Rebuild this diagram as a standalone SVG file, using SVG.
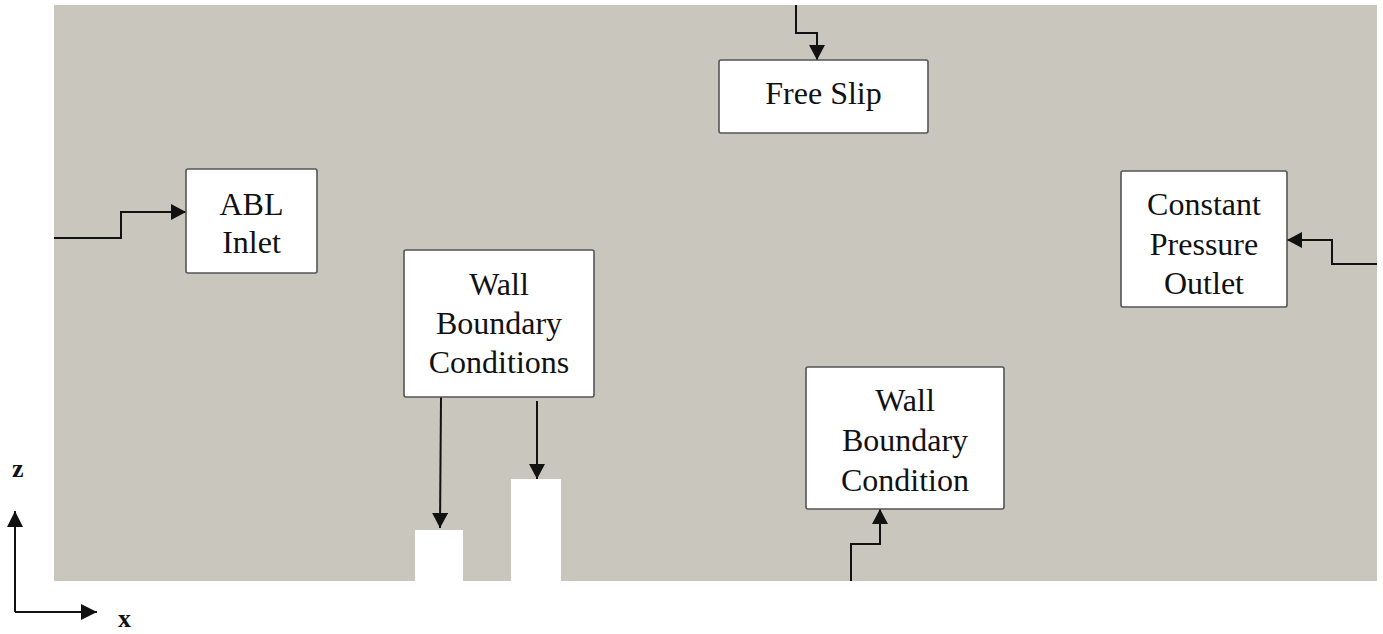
<svg xmlns="http://www.w3.org/2000/svg" width="1383" height="634" viewBox="0 0 1383 634">
<style>
.node rect{fill:#ffffff;stroke:#555555;stroke-width:1.6}
.lbl{font-family:"Liberation Serif","Times New Roman",serif;font-size:32px;fill:#111;text-anchor:middle}
.ax{font-family:"Liberation Serif","Times New Roman",serif;font-size:26px;font-weight:bold;fill:#111}
.conn path,.conn line{fill:none;stroke:#111;stroke-width:2}
.bld{fill:#ffffff}
</style>
<defs>
<marker id="ah" viewBox="0 0 15 16" refX="15" refY="8" markerWidth="15" markerHeight="16" markerUnits="userSpaceOnUse" orient="auto">
<path d="M0,0 L15,8 L0,16 Z" fill="#111"/>
</marker>
<marker id="ax" viewBox="0 0 16 16" refX="16" refY="8" markerWidth="16" markerHeight="16" markerUnits="userSpaceOnUse" orient="auto">
<path d="M0,0 L16,8 L0,16 Z" fill="#111"/>
</marker>
</defs>
<rect x="0" y="0" width="1383" height="634" fill="#ffffff"/>
<rect id="domain" x="54" y="5" width="1323" height="576" fill="#c9c6be"/>
<rect class="bld" id="building1" x="415" y="530" width="48" height="52"/>
<rect class="bld" id="building2" x="511" y="479" width="50" height="103"/>
<g id="connectors" class="conn">
<path d="M796,5 V33 H817 V60" marker-end="url(#ah)"/>
<path d="M54,238 H121 V212 H186" marker-end="url(#ah)"/>
<path d="M1377,264 H1332 V240 H1287" marker-end="url(#ah)"/>
<path d="M441,397 L440,528" marker-end="url(#ah)"/>
<path d="M537,401 V479" marker-end="url(#ah)"/>
<path d="M851,581 V544 H880 V509" marker-end="url(#ah)"/>
</g>
<g id="free-slip" class="node">
<rect x="719" y="60" width="209" height="73" rx="2"/>
<text class="lbl" x="823.5" y="104">Free Slip</text>
</g>
<g id="abl-inlet" class="node">
<rect x="186" y="169" width="131" height="104" rx="2"/>
<text class="lbl" x="251.5" y="215">ABL</text>
<text class="lbl" x="251.5" y="253">Inlet</text>
</g>
<g id="constant-pressure-outlet" class="node">
<rect x="1121" y="171" width="166" height="136" rx="2"/>
<text class="lbl" x="1204" y="215">Constant</text>
<text class="lbl" x="1204" y="255">Pressure</text>
<text class="lbl" x="1204" y="294">Outlet</text>
</g>
<g id="wall-boundary-conditions" class="node">
<rect x="404" y="250" width="190" height="147" rx="2"/>
<text class="lbl" x="499" y="295">Wall</text>
<text class="lbl" x="499" y="334">Boundary</text>
<text class="lbl" x="499" y="373">Conditions</text>
</g>
<g id="wall-boundary-condition" class="node">
<rect x="806" y="367" width="198" height="142" rx="2"/>
<text class="lbl" x="905" y="411">Wall</text>
<text class="lbl" x="905" y="451">Boundary</text>
<text class="lbl" x="905" y="491">Condition</text>
</g>
<g id="axes" class="conn">
<path d="M15,612 V511" marker-end="url(#ax)"/>
<path d="M15,612 H97" marker-end="url(#ax)"/>
</g>
<text class="ax" x="12" y="477">z</text>
<text class="ax" x="118" y="627">x</text>
</svg>
